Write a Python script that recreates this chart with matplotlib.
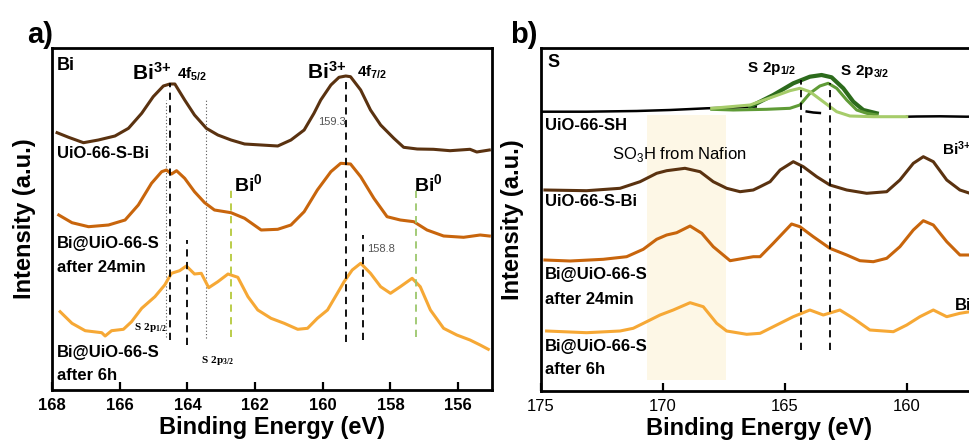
import numpy as np
import matplotlib.pyplot as plt

# ============================================================
# XPS Bi 4f (a) y S 2p (b)
# ============================================================

plt.rcParams["font.family"] = ["Liberation Sans", "DejaVu Sans"]
plt.rcParams["mathtext.fontset"] = "custom"
plt.rcParams["mathtext.rm"] = "Liberation Sans"
plt.rcParams["mathtext.bf"] = "Liberation Sans:bold"
plt.rcParams["mathtext.sf"] = "Liberation Serif:bold"

# ------------------------------------------------------------
# Datos panel a (Bi 4f), intensidad en u.a.
# ------------------------------------------------------------
a_sbi_x = [167.85, 167.51, 167.07, 166.63, 166.14, 165.74, 165.35, 165.01, 164.71, 164.52,
           164.37, 164.08, 163.79, 163.44, 163.10, 162.71, 162.31, 161.82, 161.33, 160.94,
           160.55, 160.26, 160.06, 159.76, 159.52, 159.32, 159.18, 158.88, 158.59, 158.29,
           157.90, 157.61, 157.21, 156.73, 156.24, 155.65, 155.45, 155.08]
a_sbi_y = [257.3, 252.7, 247.3, 250, 254, 261.7, 276.7, 293.3, 304, 306,
           306, 290, 275, 261.7, 255, 250, 246, 245, 244, 250,
           260, 276.7, 290, 305, 312.7, 314, 313.3, 300, 280, 265,
           251.7, 242.7, 241, 240.7, 239.3, 240.7, 238, 240]

a_24_x = [167.80, 167.41, 166.92, 166.33, 165.84, 165.45, 165.06, 164.76, 164.62, 164.47,
          164.32, 164.08, 163.79, 163.49, 163.20, 162.71, 162.31, 161.82, 161.33, 160.94,
          160.55, 160.16, 159.76, 159.47, 159.18, 158.88, 158.49, 158.10, 157.71, 157.31,
          156.92, 156.43, 155.84, 155.35, 155.08]
a_24_y = [175, 167.3, 163.3, 165, 170, 185, 206.7, 218.3, 220, 216,
          219.3, 211.7, 198.3, 187.3, 180, 177.3, 171.7, 160, 160.7, 165,
          178.3, 200, 218.3, 226.7, 226, 213.3, 191.7, 173.3, 170, 168.3,
          160, 154, 152.7, 155, 154]

a_6h_x = [167.76, 167.41, 167.02, 166.53, 166.43, 166.24, 165.89, 165.65, 165.35, 164.96,
          164.67, 164.47, 164.23, 164.03, 163.79, 163.59, 163.37, 163.10, 162.80, 162.51,
          162.21, 161.92, 161.53, 161.14, 160.74, 160.45, 160.16, 159.86, 159.57, 159.37,
          159.13, 158.88, 158.59, 158.29, 158.00, 157.71, 157.36, 157.12, 156.82, 156.43,
          156.04, 155.65, 155.35, 155.11]
a_6h_y = [78.3, 66.7, 59.3, 57.3, 54, 59.3, 60.7, 68.3, 81.7, 93.3,
          105, 116.7, 119.3, 124, 116, 116.7, 102.3, 108.3, 116, 112.7,
          93.3, 80, 71.7, 66.7, 60.7, 61.7, 71.7, 80, 96.7, 108.3,
          120, 126.7, 116.7, 103.3, 96.7, 103.3, 111.7, 103.3, 80, 61.7,
          55, 50, 45, 40.7]

# lineas verticales panel a: posicion (eV), inicio, fin
a_dash_neg = [(164.5, 50, 307), (164.0, 45, 150), (159.3, 48, 313), (158.8, 50, 155)]
a_dash_bi0 = [(162.7, 53, 200, "#b5c93c"), (157.25, 53, 202, "#9cc76c")]
a_dotted = [(164.63, 53, 290), (163.44, 52, 290)]

# ------------------------------------------------------------
# Datos panel b (S 2p)
# ------------------------------------------------------------
b_sh_left_x = [174.97, 173.13, 171.08, 169.71, 168.21, 167.0, 166.2]
b_sh_left_y = [279.3, 279.3, 280, 281, 282.7, 283.5, 284.5]
b_sh_mid_x = [164.11, 163.84, 163.57]
b_sh_mid_y = [279.5, 278.5, 278]
b_sh_right_x = [160.0, 159.6, 158.65, 157.55, 157.1]
b_sh_right_y = [274.3, 274.5, 274.7, 274.3, 274.5]

fit_p12_x = [168.00, 166.43, 165.48, 164.80, 164.39, 163.98, 163.43, 162.88, 162.34, 161.38, 160.01]
fit_p12_y = [282.7, 286, 294.3, 300.3, 302.7, 299.3, 289.3, 279.3, 275, 274.3, 274.3]
fit_p32_x = [168.00, 167.12, 165.75, 164.80, 164.39, 163.98, 163.57, 163.23, 162.88, 162.47,
             162.06, 161.65, 161.24]
fit_p32_y = [281.7, 281, 281.7, 282.7, 286, 297.7, 305, 307.7, 302.7, 291,
             281, 277.7, 276]
fit_env_x = [166.43, 165.48, 164.66, 163.98, 163.50, 163.09, 162.61, 162.20, 161.79, 161.24]
fit_env_y = [284.3, 296, 307.7, 314.3, 316, 313.7, 302.7, 289.3, 281, 277.7]

b_sbi_x = [174.84, 173.13, 171.76, 170.94, 170.26, 169.85, 169.10, 168.48, 167.94, 167.39,
           166.84, 166.30, 166.02, 165.61, 165.20, 164.66, 164.25, 163.70, 163.16, 162.47,
           161.65, 160.83, 160.29, 159.74, 159.33, 158.92, 158.37, 157.83, 157.42, 157.1]
b_sbi_y = [201, 200.3, 202.7, 209.3, 217.7, 220.3, 222.7, 219.3, 209.3, 202.7,
           199.3, 201, 204.3, 209.3, 221, 229.3, 224.3, 214.3, 206, 201,
           197.7, 199.3, 211, 227.7, 234.3, 229.3, 211, 201, 197.7, 197]

b_24_x = [174.84, 173.81, 172.45, 171.49, 170.81, 170.26, 169.85, 169.44, 168.89, 168.41,
          167.94, 167.25, 166.30, 166.02, 165.48, 164.73, 164.39, 163.84, 163.16, 162.47,
          161.93, 161.38, 160.83, 160.29, 159.74, 159.33, 158.92, 158.37, 157.83, 157.42, 157.1]
b_24_y = [131, 130, 131.7, 134.3, 141.7, 151.7, 156, 158.3, 165, 157.7,
          144.3, 130.3, 134.3, 134.3, 147.7, 167, 164.3, 154.3, 142.7, 136,
          130.3, 129.3, 132.7, 144.3, 161, 170.3, 166, 149.3, 136, 136, 135]

b_6h_x = [174.77, 173.13, 171.76, 171.22, 170.67, 170.12, 169.58, 168.89, 168.35, 167.80,
          167.39, 166.57, 166.02, 165.34, 164.66, 163.98, 163.43, 162.75, 162.20, 161.52,
          160.56, 160.01, 159.47, 158.92, 158.37, 157.83, 157.42, 157.1]
b_6h_y = [60, 58.3, 60, 62.7, 69.3, 76, 81, 88.3, 84.3, 67.7,
          60, 56.7, 57.7, 66, 74.3, 81, 76, 81, 72.7, 61,
          59.3, 66, 74.3, 81, 74.3, 77.7, 79.3, 80]

b_dash = [(164.34, 41, 311), (163.16, 41, 308)]
b_nafion = (170.65, 167.4, 11, 276)

col_sbi = "#5a3210"
col_24 = "#c8650c"
col_6h = "#f6a835"

# ============================================================
# Figura
# ============================================================
fig = plt.figure(figsize=(9.7, 4.46), dpi=100)
ax_a = fig.add_axes([52 / 970, 56 / 446, 440 / 970, 342 / 446])
ax_b = fig.add_axes([541 / 970, 55 / 446, 436 / 970, 343 / 446])

lw = 2.2
dash = (0, (4, 3))
bi3 = r"$\mathbf{Bi^{3{+}}}$"

# ---------------- panel a ----------------
for x, y0, y1 in a_dotted:
    ax_a.vlines(x, y0, y1, colors="#555555", linestyles=(0, (1, 2)), linewidth=0.8)
for x, y0, y1 in a_dash_neg:
    ax_a.vlines(x, y0, y1, colors="black", linestyles=dash, linewidth=1.3, zorder=4)
for x, y0, y1, c in a_dash_bi0:
    ax_a.vlines(x, y0, y1, colors=c, linestyles=dash, linewidth=1.3, zorder=4)

ax_a.plot(a_sbi_x, a_sbi_y, color=col_sbi, lw=lw)
ax_a.plot(a_24_x, a_24_y, color=col_24, lw=lw)
ax_a.plot(a_6h_x, a_6h_y, color=col_6h, lw=lw)

ax_a.set_xlim(168, 155)
ax_a.set_ylim(0, 342)
ax_a.set_xticks([168, 166, 164, 162, 160, 158, 156])

ax_a.text(167.85, 325, "Bi", fontsize=13, fontweight="bold", va="center")
ax_a.text(165.65, 310, bi3, fontsize=15, va="baseline")
ax_a.text(164.30, 311, r"$\mathbf{4f_{5/2}}$", fontsize=11, va="baseline")
ax_a.text(160.47, 311, bi3, fontsize=15, va="baseline")
ax_a.text(158.98, 313, r"$\mathbf{4f_{7/2}}$", fontsize=11, va="baseline")
ax_a.text(159.74, 268, "159.3", fontsize=8, color="#555555", ha="center", va="center")
ax_a.text(158.28, 140.5, "158.8", fontsize=8, color="#555555", ha="center", va="center")
ax_a.text(162.63, 198.5, r"$\mathbf{Bi^{0}}$", fontsize=14, va="baseline")
ax_a.text(157.29, 198.5, r"$\mathbf{Bi^{0}}$", fontsize=14, va="baseline")
ax_a.text(165.59, 60, r"$\mathsf{S\ 2p_{1/2}}$", fontsize=8, va="baseline")
ax_a.text(163.59, 27, r"$\mathsf{S\ 2p_{3/2}}$", fontsize=8, va="baseline")

etiquetas_a = [("UiO-66-S-Bi", 237), ("Bi@UiO-66-S", 146.5), ("after 24min", 123),
               ("Bi@UiO-66-S", 38), ("after 6h", 14)]
for txt, yy in etiquetas_a:
    ax_a.text(167.85, yy, txt, fontsize=12, fontweight="bold", va="center")

# ---------------- panel b ----------------
x0, x1, y0, y1 = b_nafion
ax_b.fill_between([x0, x1], y0, y1, color="#fdf7e6", lw=0, zorder=0)

ax_b.plot(b_sh_left_x, b_sh_left_y, color="black", lw=1.8)
ax_b.plot(b_sh_right_x, b_sh_right_y, color="black", lw=1.8)
ax_b.plot(b_sh_mid_x, b_sh_mid_y, color="black", lw=1.8)
ax_b.plot(fit_env_x, fit_env_y, color="#2c6b1c", lw=3.0)
ax_b.plot(fit_p32_x, fit_p32_y, color="#5f9b36", lw=lw)
ax_b.plot(fit_p12_x, fit_p12_y, color="#a6cc6a", lw=lw)

for x, ya, yb in b_dash:
    ax_b.vlines(x, ya, yb, colors="black", linestyles=dash, linewidth=1.3, zorder=4)

ax_b.plot(b_sbi_x, b_sbi_y, color=col_sbi, lw=lw)
ax_b.plot(b_24_x, b_24_y, color=col_24, lw=lw)
ax_b.plot(b_6h_x, b_6h_y, color=col_6h, lw=lw)

ax_b.set_xlim(175, 157.13)
ax_b.set_ylim(0, 343)
ax_b.set_xticks([175, 170, 165, 160])

ax_b.text(174.75, 328.5, "S", fontsize=13, fontweight="bold", va="center")
ax_b.text(172.09, 236, r"SO$_3$H from Nafion", fontsize=12, va="center")
ax_b.text(166.56, 319, r"$\mathbf{S\ 2p_{1/2}}$", fontsize=11, va="baseline")
ax_b.text(162.75, 316, r"$\mathbf{S\ 2p_{3/2}}$", fontsize=11, va="baseline")
ax_b.text(158.57, 236, bi3, fontsize=11, va="baseline")
ax_b.text(158.03, 81, "Bi", fontsize=12, fontweight="bold", va="baseline")

etiquetas_b = [("UiO-66-SH", 265), ("UiO-66-S-Bi", 189), ("Bi@UiO-66-S", 116),
               ("after 24min", 92), ("Bi@UiO-66-S", 44), ("after 6h", 21)]
for txt, yy in etiquetas_b:
    ax_b.text(174.84, yy, txt, fontsize=12, fontweight="bold", va="center")

# ---------------- ejes ----------------
for ax in (ax_a, ax_b):
    for s in ax.spines.values():
        s.set_linewidth(2.0)
    ax.set_yticks([])
    ax.tick_params(axis="x", direction="in", length=6, width=1.6, pad=6, labelsize=12)
    ax.set_xlabel("Binding Energy (eV)", fontsize=17, fontweight="bold", labelpad=2)
    ax.set_ylabel("Intensity (a.u.)", fontsize=17, fontweight="bold")

for lab in ax_a.get_xticklabels():
    lab.set_fontweight("bold")

ax_a.yaxis.set_label_coords(-0.036, 0.5)
ax_b.yaxis.set_label_coords(-0.039, 0.5)

fig.text(27 / 970, 1 - 43 / 446, "a)", fontsize=21, fontweight="bold", va="baseline")
fig.text(510 / 970, 1 - 43 / 446, "b)", fontsize=21, fontweight="bold", va="baseline")

plt.savefig("out.png", dpi=100)
